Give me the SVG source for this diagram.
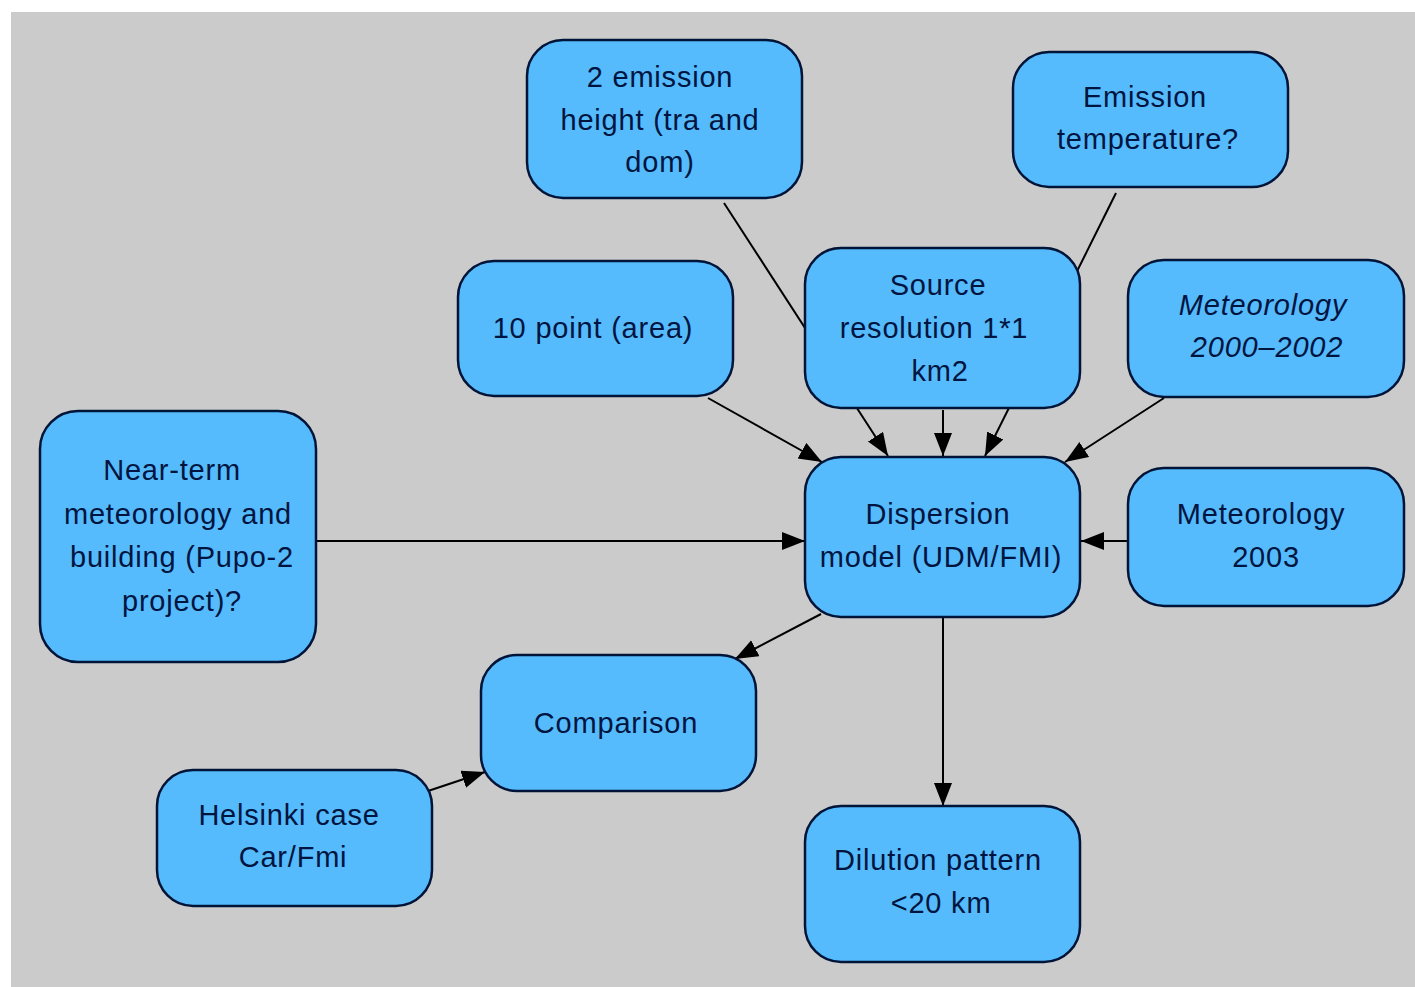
<svg xmlns="http://www.w3.org/2000/svg" width="1415" height="987" viewBox="0 0 1415 987">
<style>
.n rect{fill:#55bbfd;stroke:#001438;stroke-width:2.5}
.n text{font-family:"Liberation Sans",Arial,sans-serif;font-size:29px;fill:#001440;text-anchor:middle;letter-spacing:0.8px}
.it{font-style:italic}
#connectors line{stroke:#000;stroke-width:2;marker-end:url(#ah)}
</style>
<defs>
<marker id="ah" markerUnits="userSpaceOnUse" markerWidth="26" markerHeight="20" refX="23" refY="9" orient="auto">
<path d="M0,0 L23,9 L0,18 Z" fill="#000"/>
</marker>
</defs>
<rect x="0" y="0" width="1415" height="987" fill="#fff"/>
<rect x="11" y="12" width="1404" height="975" fill="#cbcbcb"/>
<g id="connectors">
<line x1="724" y1="203" x2="888" y2="456"/>
<line x1="1116" y1="193" x2="985" y2="456"/>
<line x1="708" y1="398" x2="822" y2="462"/>
<line x1="1164" y1="398" x2="1065" y2="462"/>
<line x1="943" y1="410" x2="943" y2="456"/>
<line x1="316" y1="541" x2="805" y2="541"/>
<line x1="1128" y1="541" x2="1081" y2="541"/>
<line x1="821" y1="614" x2="735" y2="659"/>
<line x1="943" y1="618" x2="943" y2="806"/>
<line x1="428" y1="791" x2="485" y2="772"/>
</g>
<g id="n-emission-height" class="n"><rect x="527" y="40" width="275" height="158" rx="36"/>
<text x="660" y="87">2 emission</text><text x="660" y="130">height (tra and</text><text x="660" y="172">dom)</text></g>
<g id="n-emission-temp" class="n"><rect x="1013" y="52" width="275" height="135" rx="36"/>
<text x="1145" y="107">Emission</text><text x="1148" y="149">temperature?</text></g>
<g id="n-10point" class="n"><rect x="458" y="261" width="275" height="135" rx="36"/>
<text x="593" y="338">10 point (area)</text></g>
<g id="n-source" class="n"><rect x="805" y="248" width="275" height="160" rx="36"/>
<text x="938" y="295">Source</text><text x="934" y="338">resolution 1*1</text><text x="940" y="381">km2</text></g>
<g id="n-met2000" class="n"><rect x="1128" y="260" width="276" height="137" rx="36"/>
<text class="it" x="1263" y="315">Meteorology</text><text class="it" x="1267" y="357">2000–2002</text></g>
<g id="n-nearterm" class="n"><rect x="40" y="411" width="276" height="251" rx="38"/>
<text x="172" y="480">Near-term</text><text x="178" y="524">meteorology and</text><text x="182" y="567">building (Pupo-2</text><text x="182" y="611">project)?</text></g>
<g id="n-dispersion" class="n"><rect x="805" y="457" width="275" height="160" rx="36"/>
<text x="938" y="524">Dispersion</text><text x="941" y="567">model (UDM/FMI)</text></g>
<g id="n-met2003" class="n"><rect x="1128" y="468" width="276" height="138" rx="36"/>
<text x="1261" y="524">Meteorology</text><text x="1266" y="567">2003</text></g>
<g id="n-comparison" class="n"><rect x="481" y="655" width="275" height="136" rx="36"/>
<text x="616" y="733">Comparison</text></g>
<g id="n-helsinki" class="n"><rect x="157" y="770" width="275" height="136" rx="36"/>
<text x="289" y="825">Helsinki case</text><text x="293" y="867">Car/Fmi</text></g>
<g id="n-dilution" class="n"><rect x="805" y="806" width="275" height="156" rx="36"/>
<text x="938" y="870">Dilution pattern</text><text x="941" y="913">&lt;20 km</text></g>
</svg>
